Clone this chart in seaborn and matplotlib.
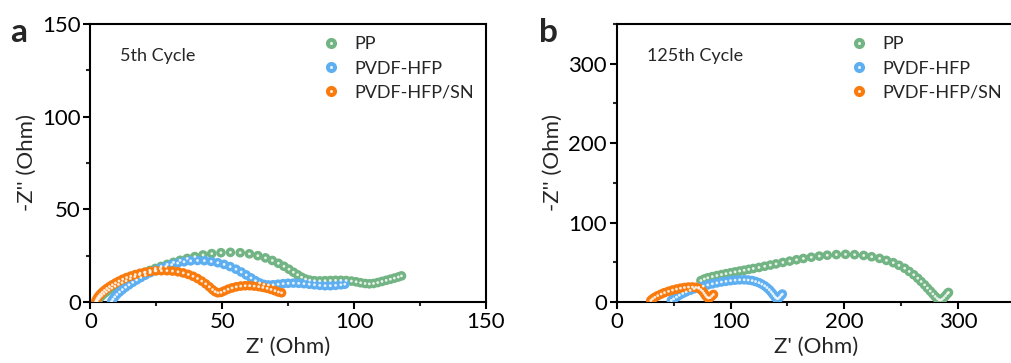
import numpy as np
import pandas as pd
import matplotlib
matplotlib.use("Agg")
import matplotlib.pyplot as plt
from matplotlib.lines import Line2D
from matplotlib.ticker import MultipleLocator
import seaborn as sns

# ---------------- data ----------------
series_names = ["PP", "PVDF-HFP", "PVDF-HFP/SN"]
colors = ["#72b483", "#5eaff2", "#f97b0e"]

# panel a (5th cycle)
a_pp_x = [2.5, 3, 3.6, 4.3, 5.1, 6, 7, 8.1, 9.3, 10.6, 12, 13.5, 15.1, 16.8, 18.6, 20.5, 22.5, 24.6,
          26.8, 29.1, 31.5, 34, 36.7, 39.6, 42.7, 46, 49.5, 53.1, 56.8, 60.3, 63.5, 66.4, 69, 71.3,
          73.4, 75.3, 77, 78.6, 80.1, 81.6, 83.2, 85, 87, 89, 91, 93, 95, 97, 99, 100.8, 102.5,
          104.2, 105.8, 107.4, 109, 110.6, 112.2, 113.8, 115.3, 116.8, 118]
a_pp_y = [0.5, 1.5, 2.5, 3.5, 4.5, 5.5, 6.5, 7.5, 8.5, 9.5, 10.5, 11.5, 12.6, 13.7, 14.8, 15.9, 17, 18.1,
          19.2, 20.3, 21.4, 22.5, 23.5, 24.5, 25.4, 26.1, 26.6, 26.8, 26.6, 26.0, 25.0, 23.8, 22.4, 20.9,
          19.3, 17.7, 16.1, 14.7, 13.4, 12.4, 11.8, 11.5, 11.4, 11.5, 11.6, 11.7, 11.7, 11.6, 11.3, 10.9,
          10.4, 10.0, 9.8, 10.0, 10.5, 11.1, 11.7, 12.3, 12.9, 13.5, 14.1]

a_pvdf_x = [8, 8.5, 9.2, 10, 11, 12.1, 13.3, 14.6, 16, 17.5, 19.1, 20.8, 22.6, 24.5, 26.5, 28.6, 30.8,
            33.1, 35.5, 38, 40.6, 43.2, 45.8, 48.3, 50.7, 53, 55.2, 57.2, 59.1, 60.9, 62.6, 64.2, 65.8,
            67.5, 69.3, 71.2, 73.1, 75, 77, 79, 81, 83, 85, 87, 89, 91, 93, 95, 96.5]
a_pvdf_y = [0.3, 1.5, 2.8, 4.1, 5.4, 6.7, 8, 9.3, 10.6, 11.9, 13.2, 14.5, 15.8, 17, 18.1, 19.2, 20.2,
            21, 21.7, 22.2, 22.4, 22.3, 21.9, 21.2, 20.3, 19.1, 17.7, 16.2, 14.6, 13, 11.5, 10.3, 9.5,
            9.2, 9.3, 9.6, 9.9, 10.1, 10.2, 10.1, 9.9, 9.6, 9.3, 9.0, 8.8, 8.8, 9.0, 9.3, 9.6]

a_sn_x = [2, 2.3, 2.7, 3.2, 3.8, 4.5, 5.3, 6.2, 7.2, 8.3, 9.5, 10.8, 12.2, 13.7, 15.3, 17, 18.8, 20.7,
          22.7, 24.8, 26.9, 29, 31.1, 33.2, 35.2, 37.1, 38.9, 40.6, 42.2, 43.7, 45.1, 46.3, 47.3, 48.3,
          49.5, 50.8, 52.2, 53.7, 55.3, 57, 58.7, 60.4, 62.1, 63.8, 65.4, 67, 68.5, 70, 71.3, 72.5]
a_sn_y = [0.3, 1.3, 2.3, 3.3, 4.3, 5.3, 6.3, 7.3, 8.3, 9.3, 10.3, 11.3, 12.3, 13.2, 14, 14.8, 15.5, 16.1,
          16.5, 16.8, 16.9, 16.9, 16.7, 16.3, 15.7, 14.9, 13.9, 12.7, 11.3, 9.8, 8.2, 6.7, 5.6, 5.0,
          5.2, 6.0, 6.9, 7.6, 8.2, 8.6, 8.8, 8.8, 8.6, 8.3, 7.9, 7.4, 6.8, 6.1, 5.4, 5.0]

# panel b (125th cycle)
b_pp_x = [74, 77, 80, 84, 88, 92, 96, 100, 104, 108, 112, 116, 120, 125, 130, 135, 140, 146, 152, 158,
          164, 171, 178, 185, 193, 201, 209, 217, 224, 231, 237, 243, 248, 253, 257, 261, 264.5, 267.5,
          270.5, 273, 275.5, 277.8, 279.8, 281.5, 283, 284.5, 286, 287.5, 289, 290.5, 291.5]
b_pp_y = [27, 29, 30.5, 32, 33.3, 34.5, 35.7, 36.8, 37.9, 39, 40, 41.1, 42.2, 43.5, 45, 46.5, 48, 49.8,
          51.5, 53.2, 54.8, 56.4, 57.8, 58.9, 59.7, 60, 59.6, 58.6, 57, 54.9, 52.4, 49.5, 46.2, 42.5,
          38.5, 34.3, 30, 25.8, 21.6, 17.6, 13.8, 10.2, 7, 4.5, 3, 2.5, 3.5, 5.5, 8, 10.5, 12]

b_pvdf_x = [48, 50, 52.5, 55, 58, 61, 64.5, 68, 72, 76, 80, 84, 88, 92, 96, 100, 104, 108, 112, 115.5,
            119, 122, 125, 127.5, 130, 132, 134, 135.6, 137, 138.3, 139.5, 140.7, 142, 143.3, 144.5,
            145.5]
b_pvdf_y = [2, 4, 6.3, 8.5, 10.8, 12.8, 14.8, 16.6, 18.4, 20, 21.5, 22.9, 24.1, 25.2, 26.1, 26.9, 27.5,
            27.9, 28, 27.7, 27, 25.8, 24.3, 22.5, 20.4, 18.1, 15.6, 13, 10.5, 8, 5.8, 4.3, 4.5, 6.3,
            8.5, 10]

b_sn_x = [30, 31.5, 33.5, 36, 39, 42, 45.5, 49, 52.5, 56, 59.5, 63, 66.5, 69.5, 72, 74, 75.5, 76.8, 78,
          79.2, 80.5, 82, 83.5, 85]
b_sn_y = [2, 4, 6, 8, 10, 11.8, 13.5, 15, 16.3, 17.4, 18.3, 18.8, 18.9, 18.4, 17.3, 15.6, 13.5, 11, 8.5,
          6.3, 5, 5.5, 7.5, 9.5]

cycle_labels = ["5th Cycle", "125th Cycle"]
panel_letters = ["a", "b"]


def make_df(xs, ys):
    rows = []
    for name, x, y in zip(series_names, xs, ys):
        rows.append(pd.DataFrame({"x": x, "y": y, "series": name}))
    return pd.concat(rows, ignore_index=True)


df_a = make_df([a_pp_x, a_pvdf_x, a_sn_x], [a_pp_y, a_pvdf_y, a_sn_y])
df_b = make_df([b_pp_x, b_pvdf_x, b_sn_x], [b_pp_y, b_pvdf_y, b_sn_y])

# ---------------- style ----------------
sns.set_style("ticks")
plt.rcParams["font.family"] = ["Lato", "DejaVu Sans"]
plt.rcParams["axes.linewidth"] = 1.5

fig = plt.figure(figsize=(10.11, 3.63), dpi=100)
ax_a = fig.add_axes([0.0895, 0.168, 0.391, 0.766])
ax_b = fig.add_axes([0.610, 0.168, 0.394, 0.766])

palette = dict(zip(series_names, colors))

configs = [
    (ax_a, df_a, (0, 150), (0, 150), 50, 25, 50, 25),
    (ax_b, df_b, (0, 350), (0, 350), 100, 50, 100, 50),
]

for i, (ax, df, xlim, ylim, xmaj, xmin, ymaj, ymin) in enumerate(configs):
    sns.scatterplot(data=df, x="x", y="y", hue="series", palette=palette, s=48,
                    edgecolor="none", linewidth=0, legend=False, ax=ax, zorder=3)
    sns.scatterplot(data=df, x="x", y="y", color="white", s=4, edgecolor="none",
                    linewidth=0, alpha=0.85, legend=False, ax=ax, zorder=4)
    ax.set_xlim(*xlim)
    ax.set_ylim(*ylim)
    ax.xaxis.set_major_locator(MultipleLocator(xmaj))
    ax.xaxis.set_minor_locator(MultipleLocator(xmin))
    ax.yaxis.set_major_locator(MultipleLocator(ymaj))
    ax.yaxis.set_minor_locator(MultipleLocator(ymin))
    ax.tick_params(which="major", direction="out", length=5, width=1.5, labelsize=16, pad=2,
                   colors="black")
    ax.tick_params(which="minor", direction="out", length=3, width=1.5)
    for sp in ax.spines.values():
        sp.set_visible(True)
        sp.set_linewidth(1.5)
        sp.set_color("black")
    ax.set_xlabel("Z' (Ohm)", fontsize=16, labelpad=4)
    ax.set_ylabel("-Z'' (Ohm)", fontsize=16, labelpad=4)
    ax.text(0.075, 0.885, cycle_labels[i], transform=ax.transAxes, fontsize=13,
            va="center", ha="left")
    handles = []
    for c in colors:
        h1 = Line2D([], [], marker="o", linestyle="none", markersize=8,
                    markerfacecolor=c, markeredgecolor="none")
        h2 = Line2D([], [], marker="o", linestyle="none", markersize=2.2,
                    markerfacecolor="white", markeredgecolor="none", alpha=0.85)
        handles.append((h1, h2))
    ax.legend(handles, series_names, loc="upper left", bbox_to_anchor=(0.585, 0.955),
              frameon=False, fontsize=13, handlelength=1.0, handletextpad=0.8,
              labelspacing=0.45, borderpad=0, borderaxespad=0)

fig.text(0.010, 0.884, "a", fontsize=24, fontweight="bold", va="baseline", ha="left")
fig.text(0.533, 0.884, "b", fontsize=24, fontweight="bold", va="baseline", ha="left")

fig.savefig("out.png", dpi=100)
